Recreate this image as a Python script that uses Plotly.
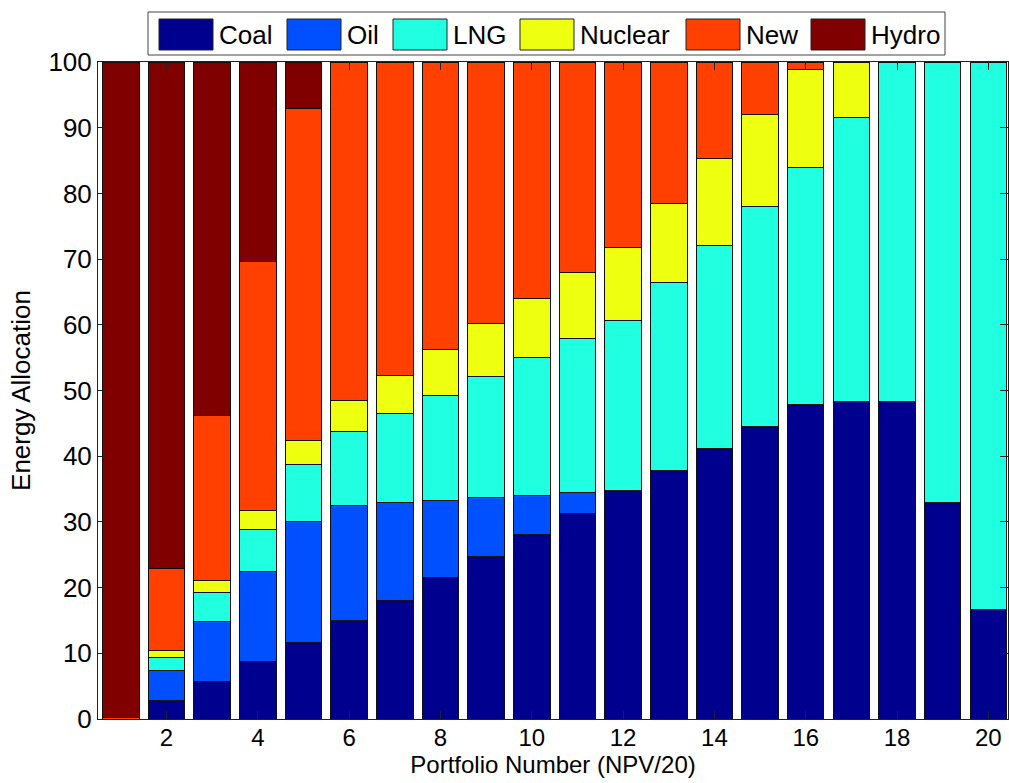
import plotly.graph_objects as go

# Portfolio numbers along the x axis
portfolios = list(range(1, 21))

# Energy allocation (%) of each source in every portfolio
coal = [0, 2.8, 5.7, 8.8, 11.7, 15.0, 18.1, 21.5, 24.8, 28.1,
        31.3, 34.8, 37.9, 41.2, 44.5, 47.8, 48.4, 48.4, 32.9, 16.7]
oil = [0, 4.6, 9.2, 13.7, 18.4, 17.5, 14.9, 11.8, 8.9, 5.9,
       3.2, 0, 0, 0, 0, 0, 0, 0, 0, 0]
lng = [0, 2.0, 4.3, 6.4, 8.6, 11.2, 13.5, 16.0, 18.4, 21.0,
       23.4, 25.9, 28.6, 30.9, 33.5, 36.1, 43.2, 51.5, 67.1, 83.3]
nuclear = [0, 1.0, 1.9, 2.9, 3.7, 4.8, 5.8, 7.0, 8.1, 9.0,
           10.0, 11.1, 11.9, 13.2, 14.0, 15.0, 8.4, 0.1, 0, 0]
new = [0.3, 12.5, 25.1, 37.8, 50.5, 51.5, 47.7, 43.7, 39.8, 36.0,
       32.1, 28.2, 21.6, 14.7, 8.0, 1.1, 0, 0, 0, 0]
hydro = [99.7, 77.1, 53.8, 30.4, 7.1, 0, 0, 0, 0, 0,
         0, 0, 0, 0, 0, 0, 0, 0, 0, 0]

series_names = ["Coal", "Oil", "LNG", "Nuclear", "New", "Hydro"]
series_values = [coal, oil, lng, nuclear, new, hydro]
series_colors = ["#00008F", "#0050FF", "#20FFDF", "#EFFF10", "#FF4000", "#800000"]

y_ticks = list(range(0, 101, 10))
x_ticks = list(range(2, 21, 2))

FONT = "Liberation Sans, Arial, sans-serif"
FS = 26
FS_X = 24

W, H = 1009, 783
L, R, T, B = 98, 1, 62, 64

fig = go.Figure()
for name, vals, col in zip(series_names, series_values, series_colors):
    fig.add_trace(go.Bar(
        x=portfolios, y=vals, name=name, width=0.8,
        marker=dict(color=col, line=dict(color="#111111", width=1)),
        showlegend=False,
    ))


def px_x(px):
    return (px - L) / (W - L - R)


def px_y(py):
    return (H - B - py) / (H - T - B)


# Legend box with swatches and labels
shapes = [dict(type="rect", xref="paper", yref="paper",
               x0=px_x(148), x1=px_x(945), y0=px_y(55), y1=px_y(12),
               line=dict(color="#444444", width=1), fillcolor="white")]
annotations = []
swatch_left = [159, 287, 393, 520, 686, 811]
swatch_w = 54
for name, col, sx in zip(series_names, series_colors, swatch_left):
    shapes.append(dict(type="rect", xref="paper", yref="paper",
                       x0=px_x(sx), x1=px_x(sx + swatch_w),
                       y0=px_y(50), y1=px_y(19),
                       line=dict(color="#222222", width=1), fillcolor=col))
    annotations.append(dict(xref="paper", yref="paper",
                            x=px_x(sx + swatch_w + 4), y=px_y(35),
                            text=name, showarrow=False,
                            xanchor="left", yanchor="middle",
                            font=dict(family=FONT, size=FS, color="black")))

fig.update_layout(
    barmode="stack",
    width=W, height=H,
    margin=dict(l=L, r=R, t=T, b=B, pad=0),
    paper_bgcolor="white", plot_bgcolor="white",
    font=dict(family=FONT, size=FS, color="black"),
    shapes=shapes, annotations=annotations,
    bargap=0.2,
)
fig.update_xaxes(
    range=[0.5, 20.43], tickmode="array", tickvals=x_ticks,
    ticks="inside", ticklen=8, tickcolor="#222222",
    tickfont=dict(family=FONT, size=FS_X),
    ticklabelstandoff=-3,
    showline=True, linecolor="#222222", linewidth=1, mirror="allticks",
    showgrid=False, zeroline=False,
    title=dict(text="Portfolio Number (NPV/20)", standoff=6,
               font=dict(family=FONT, size=FS_X)),
    automargin=False,
)
fig.update_yaxes(
    range=[0, 100], tickmode="array", tickvals=y_ticks,
    ticks="inside", ticklen=8, tickcolor="#222222",
    showline=True, linecolor="#222222", linewidth=1, mirror="allticks",
    showgrid=False, zeroline=False,
    title=dict(text="Energy Allocation", standoff=10,
               font=dict(family=FONT, size=FS)),
    automargin=False,
)

fig.write_html("out.html")
